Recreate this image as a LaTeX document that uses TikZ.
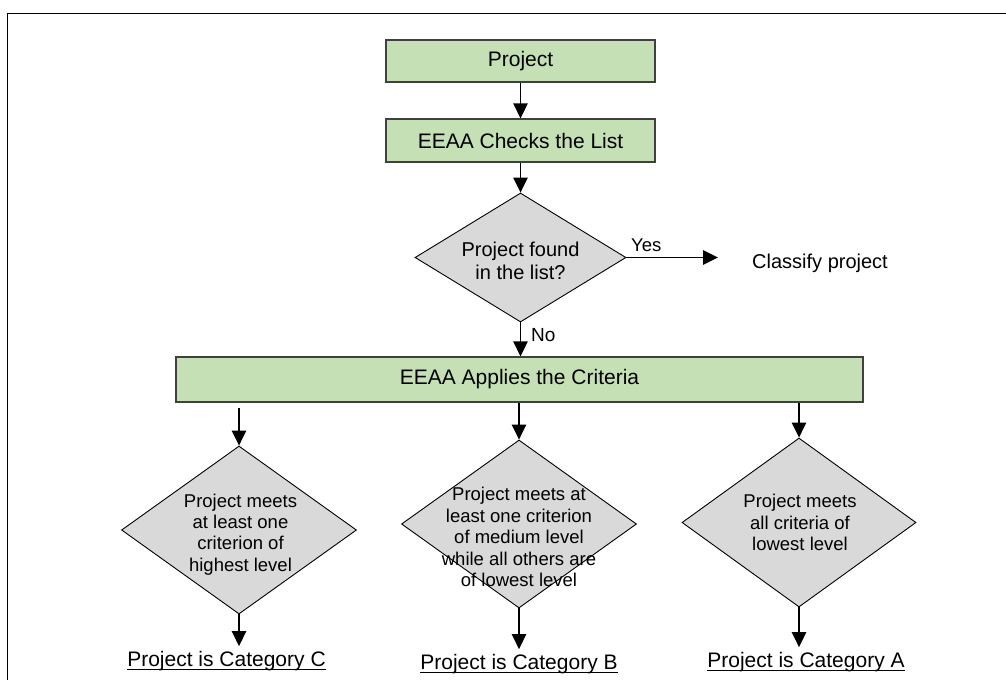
\documentclass[tikz,border=0pt]{standalone}
\usepackage{fontspec}
\setmainfont{Liberation Sans}
\usetikzlibrary{shapes.geometric,arrows.meta}
\definecolor{boxgreen}{HTML}{C5E0B4}
\definecolor{decgray}{HTML}{D9D9D9}
\definecolor{boxedge}{HTML}{404040}

\begin{document}
\begin{tikzpicture}[x=1pt,y=-1pt,
  procbox/.style={draw=boxedge, line width=1.3pt, fill=boxgreen, rectangle,
    inner sep=0pt, font=\fontsize{21}{25}\selectfont},
  decision/.style={draw=black, line width=0.9pt, fill=decgray, diamond, inner sep=0pt},
  dectext/.style={align=center, inner sep=0pt, font=\fontsize{18.5}{21.4}\selectfont},
  flow/.style={-{Triangle[length=15pt,width=14.5pt]}, line width=1.3pt},
  plain/.style={inner sep=0pt, font=\fontsize{20}{24}\selectfont},
  catlabel/.style={inner xsep=0pt, inner ysep=4.5pt, anchor=base,
    font=\fontsize{21}{25}\selectfont},
  uline/.style={line width=1.2pt},
]
\useasboundingbox (0,0) rectangle (1006,680);
\fill[white] (0,0) rectangle (1006,680);

% page frame
\draw[line width=1.6pt] (7.5,680) -- (7.5,13.5) -- (1006,13.5);

% first steps
\node[procbox, minimum width=269pt, minimum height=42pt] (proj) at (520.5,61) {Project};
\node[procbox, minimum width=269pt, minimum height=43pt] (check) at (520.5,140.5) {EEAA Checks the List};

% list lookup
\node[decision, minimum width=211pt, minimum height=129pt] (found) at (520.5,257.5) {};
\node[dectext, font=\fontsize{20}{23}\selectfont] (foundtxt) at (520.5,261) {Project found\\in the list?};
\coordinate (yesend) at (718,257.5);
\node[plain, anchor=base west, font=\fontsize{18.5}{22}\selectfont] (yes) at (631,251) {Yes};
\node[plain, anchor=base west] (classify) at (752,268) {Classify project};
\node[plain, anchor=base west, font=\fontsize{19}{22}\selectfont] (no) at (531,341) {No};

% criteria
\node[procbox, minimum width=687pt, minimum height=45pt] (apply) at (519.5,379.5) {EEAA Applies the Criteria};

\node[decision, minimum width=235pt, minimum height=168pt] (dC) at (239,530) {};
\node[dectext] (tC) at (240.5,534.5) {Project meets\\at least one\\criterion of\\highest level};
\node[decision, minimum width=235pt, minimum height=168pt] (dB) at (519,524) {};
\node[dectext] (tB) at (519,537) {Project meets at\\least one criterion\\of medium level\\while all others are\\of lowest level};
\node[decision, minimum width=234pt, minimum height=169pt] (dA) at (799,522.5) {};
\node[dectext] (tA) at (800,522.5) {Project meets\\all criteria of\\lowest level};

% outcomes
\node[catlabel] (lblC) at (226.5,666) {Project is Category C};
\node[catlabel] (lblB) at (519,669) {Project is Category B};
\node[catlabel] (lblA) at (806,667) {Project is Category A};
\draw[uline] ([yshift=-3.5pt]lblC.base west) -- ([yshift=-3.5pt]lblC.base east);
\draw[uline] ([yshift=-3.5pt]lblB.base west) -- ([yshift=-3.5pt]lblB.base east);
\draw[uline] ([yshift=-3.5pt]lblA.base west) -- ([yshift=-3.5pt]lblA.base east);

\coordinate (gapC) at (239,408);

% connectors
\draw[flow] (proj) -- (check);
\draw[flow] (check) -- (found);
\draw[flow] (found.east) -- (yesend);
\draw[flow] (found.south) -- (found.south |- apply.north);
\draw[flow] (gapC) -- (dC.north);
\draw[flow] (apply.south -| dB.north) -- (dB.north);
\draw[flow] (apply.south -| dA.north) -- (dA.north);
\draw[flow] (dC.south) -- (dC.south |- lblC.north);
\draw[flow] (dB.south) -- (dB.south |- lblB.north);
\draw[flow] (dA.south) -- (dA.south |- lblA.north);
\end{tikzpicture}
\end{document}
